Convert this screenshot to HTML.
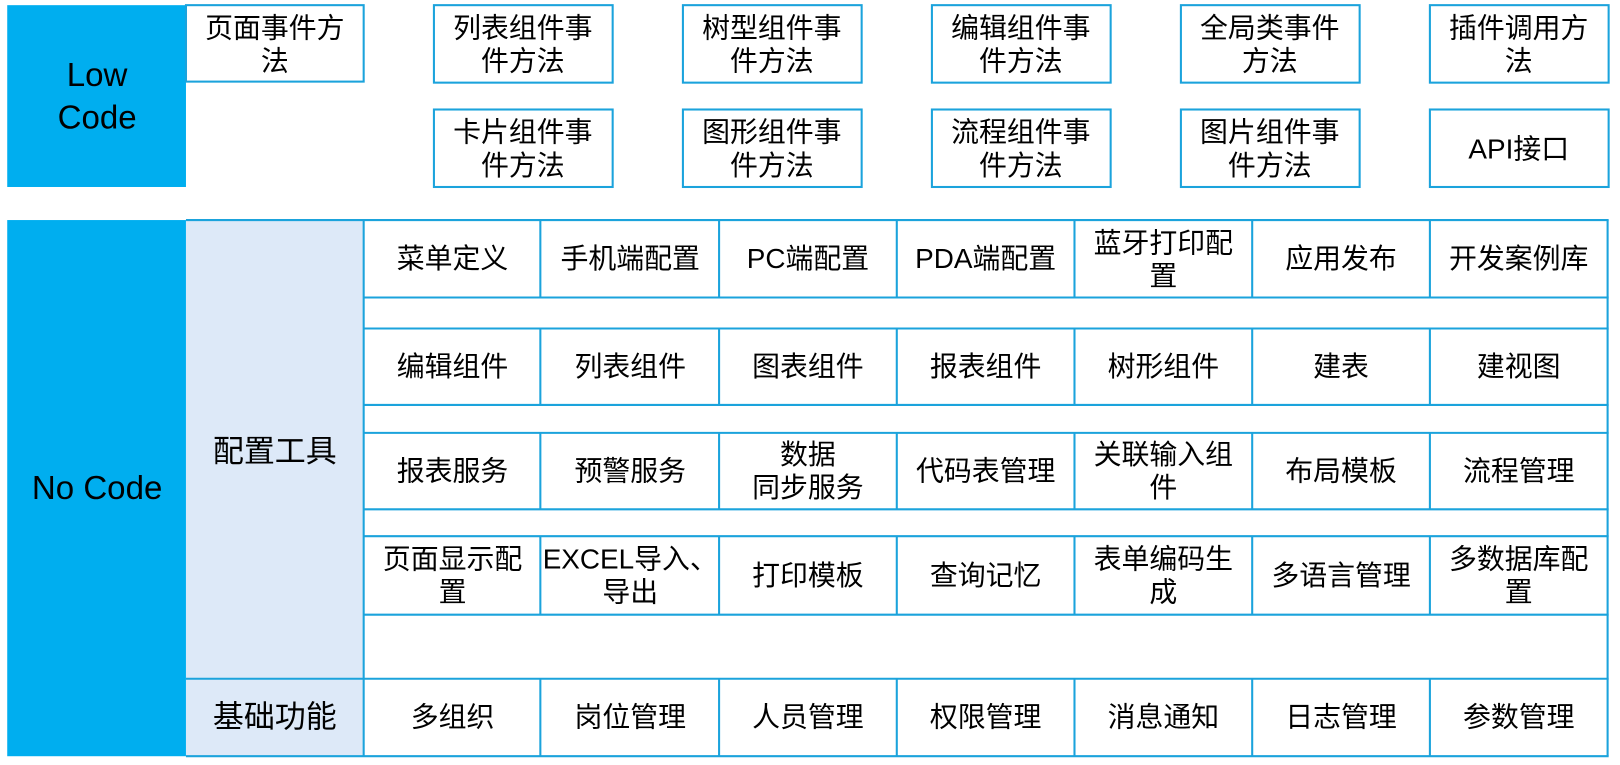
<!DOCTYPE html>
<html><head><meta charset="utf-8"><style>
html,body{margin:0;padding:0;background:#fff;}
svg{display:block;}
text{font-family:"Liberation Sans","Noto Sans CJK SC",sans-serif;font-size:27px;fill:#000;text-anchor:middle;dominant-baseline:central;}
text.big{font-size:32px;}
text.mid{font-size:30px;}
</style></head><body>
<svg width="1620" height="765" viewBox="0 0 1568 740.5" preserveAspectRatio="none" xmlns="http://www.w3.org/2000/svg">
<rect x="7" y="5" width="173" height="176" fill="#00aeef"/>
<text class="big" x="94" y="73">Low</text><text class="big" x="94" y="114">Code</text>
<g fill="#fff" stroke="#1ba3dc" stroke-width="2">
<rect x="180" y="5" width="172" height="74"/>
<rect x="420" y="5" width="173" height="75"/><rect x="661" y="5" width="173" height="75"/><rect x="902" y="5" width="173" height="75"/><rect x="1143" y="5" width="173" height="75"/><rect x="1384" y="5" width="173" height="75"/>
<rect x="420" y="106" width="173" height="75"/><rect x="661" y="106" width="173" height="75"/><rect x="902" y="106" width="173" height="75"/><rect x="1143" y="106" width="173" height="75"/><rect x="1384" y="106" width="173" height="75"/>
</g>
<text x="266" y="27">页面事件方</text><text x="266" y="59">法</text>
<text x="506" y="27">列表组件事</text><text x="506" y="59">件方法</text>
<text x="747" y="27">树型组件事</text><text x="747" y="59">件方法</text>
<text x="988" y="27">编辑组件事</text><text x="988" y="59">件方法</text>
<text x="1229" y="27">全局类事件</text><text x="1229" y="59">方法</text>
<text x="1470" y="27">插件调用方</text><text x="1470" y="59">法</text>
<text x="506" y="128">卡片组件事</text><text x="506" y="160">件方法</text>
<text x="747" y="128">图形组件事</text><text x="747" y="160">件方法</text>
<text x="988" y="128">流程组件事</text><text x="988" y="160">件方法</text>
<text x="1229" y="128">图片组件事</text><text x="1229" y="160">件方法</text>
<text x="1470" y="144">API接口</text>

<rect x="7" y="213" width="173" height="519" fill="#00aeef"/>
<text class="big" x="94" y="473">No Code</text>
<rect x="180" y="213" width="172" height="519" fill="#dde9f8"/>
<text class="mid" x="266" y="437">配置工具</text>
<text class="mid" x="266" y="694">基础功能</text>
<g stroke="#1ba3dc" stroke-width="2" fill="none">
<line x1="180" y1="213" x2="1557" y2="213"/>
<line x1="352" y1="288" x2="1557" y2="288"/>
<line x1="352" y1="318" x2="1557" y2="318"/>
<line x1="352" y1="392" x2="1557" y2="392"/>
<line x1="352" y1="419" x2="1557" y2="419"/>
<line x1="352" y1="493" x2="1557" y2="493"/>
<line x1="352" y1="519" x2="1557" y2="519"/>
<line x1="352" y1="595" x2="1557" y2="595"/>
<line x1="180" y1="657" x2="1557" y2="657"/>
<line x1="180" y1="732" x2="1557" y2="732"/>
<line x1="352" y1="213" x2="352" y2="732"/>
<line x1="1556" y1="213" x2="1556" y2="732"/>
<path d="M523 213V288M696 213V288M868 213V288M1040 213V288M1212 213V288M1384 213V288"/>
<path d="M523 318V392M696 318V392M868 318V392M1040 318V392M1212 318V392M1384 318V392"/>
<path d="M523 419V493M696 419V493M868 419V493M1040 419V493M1212 419V493M1384 419V493"/>
<path d="M523 519V595M696 519V595M868 519V595M1040 519V595M1212 519V595M1384 519V595"/>
<path d="M523 657V732M696 657V732M868 657V732M1040 657V732M1212 657V732M1384 657V732"/>
</g>
<text x="438" y="250">菜单定义</text><text x="610" y="250">手机端配置</text><text x="782" y="250">PC端配置</text><text x="954" y="250">PDA端配置</text><text x="1126" y="235">蓝牙打印配</text><text x="1126" y="267">置</text><text x="1298" y="250">应用发布</text><text x="1470" y="250">开发案例库</text>
<text x="438" y="355">编辑组件</text><text x="610" y="355">列表组件</text><text x="782" y="355">图表组件</text><text x="954" y="355">报表组件</text><text x="1126" y="355">树形组件</text><text x="1298" y="355">建表</text><text x="1470" y="355">建视图</text>
<text x="438" y="456">报表服务</text><text x="610" y="456">预警服务</text><text x="782" y="440">数据</text><text x="782" y="472">同步服务</text><text x="954" y="456">代码表管理</text><text x="1126" y="440">关联输入组</text><text x="1126" y="472">件</text><text x="1298" y="456">布局模板</text><text x="1470" y="456">流程管理</text>
<text x="438" y="541">页面显示配</text><text x="438" y="573">置</text><text x="610" y="541">EXCEL导入、</text><text x="610" y="573">导出</text><text x="782" y="557">打印模板</text><text x="954" y="557">查询记忆</text><text x="1126" y="541">表单编码生</text><text x="1126" y="573">成</text><text x="1298" y="557">多语言管理</text><text x="1470" y="541">多数据库配</text><text x="1470" y="573">置</text>
<text x="438" y="694">多组织</text><text x="610" y="694">岗位管理</text><text x="782" y="694">人员管理</text><text x="954" y="694">权限管理</text><text x="1126" y="694">消息通知</text><text x="1298" y="694">日志管理</text><text x="1470" y="694">参数管理</text>
</svg>
</body></html>
